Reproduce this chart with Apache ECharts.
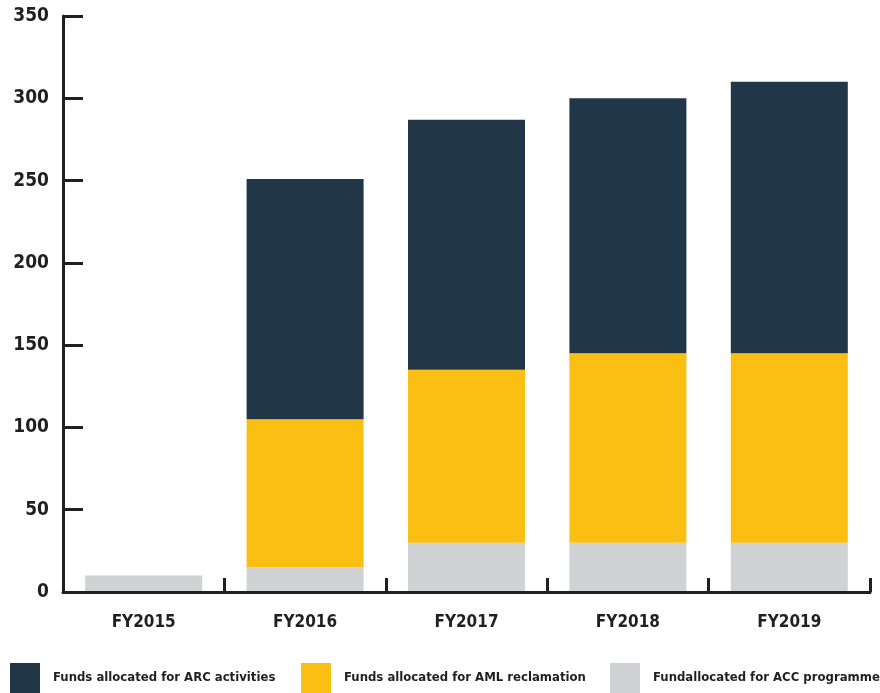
<!DOCTYPE html>
<html>
<head>
<meta charset="utf-8">
<script src="https://cdn.jsdelivr.net/npm/echarts@6/dist/echarts.min.js"></script>
<style>
html,body{margin:0;padding:0;background:#fff;}
#chart{width:880px;height:693px;}
</style>
</head>
<body>
<div id="chart"></div>
<script>
var categories = ['FY2015', 'FY2016', 'FY2017', 'FY2018', 'FY2019'];
var accValues = [10, 15, 30, 30, 30];
var amlValues = [null, 90, 105, 115, 115];
var arcValues = [null, 146, 152, 155, 165];
var yTicks = [0, 50, 100, 150, 200, 250, 300, 350];

var seriesNames = ['Funds allocated for ARC activities', 'Funds allocated for AML reclamation', 'Fundallocated for ACC programme'];
var colors = { arc: '#213747', aml: '#FBBF13', acc: '#D1D2D4' };
var ink = '#231f20';
var font = '"DejaVu Sans Condensed", "Liberation Sans Narrow", sans-serif';

var chart = echarts.init(document.getElementById('chart'));

function legendAt(name, left) {
  return {
    data: [name],
    left: left,
    top: 663,
    padding: 0,
    itemWidth: 30,
    itemHeight: 30,
    icon: 'rect',
    selectedMode: false,
    textStyle: { color: ink, fontFamily: font, fontWeight: 'bold', fontSize: 13, padding: [0, 0, 0, 8] }
  };
}

chart.setOption({
  animation: false,
  backgroundColor: '#fff',
  grid: { left: 63, right: 10, top: 16, bottom: 101, containLabel: false },
  legend: [
    legendAt(seriesNames[0], 10),
    legendAt(seriesNames[1], 301),
    legendAt(seriesNames[2], 610)
  ],
  xAxis: {
    type: 'category',
    data: categories,
    boundaryGap: true,
    axisLine: { show: true, lineStyle: { color: ink, width: 3 } },
    axisTick: { show: true, inside: true, length: 14, alignWithLabel: false, lineStyle: { color: ink, width: 3 } },
    axisLabel: { color: ink, fontFamily: font, fontWeight: 'bold', fontSize: 17, margin: 22 },
    z: 5
  },
  yAxis: {
    type: 'value',
    min: yTicks[0],
    max: yTicks[yTicks.length - 1],
    interval: 50,
    splitLine: { show: false },
    axisLine: { show: true, lineStyle: { color: ink, width: 3 } },
    axisTick: { show: true, inside: true, length: 20, lineStyle: { color: ink, width: 3 } },
    axisLabel: { color: ink, fontFamily: font, fontWeight: 'bold', fontSize: 19, margin: 14 }
  },
  series: [
    { name: seriesNames[2], type: 'bar', stack: 'total', data: accValues, barWidth: 117, itemStyle: { color: colors.acc } },
    { name: seriesNames[1], type: 'bar', stack: 'total', data: amlValues, barWidth: 117, itemStyle: { color: colors.aml } },
    { name: seriesNames[0], type: 'bar', stack: 'total', data: arcValues, barWidth: 117, itemStyle: { color: colors.arc } }
  ]
});
</script>
</body>
</html>
